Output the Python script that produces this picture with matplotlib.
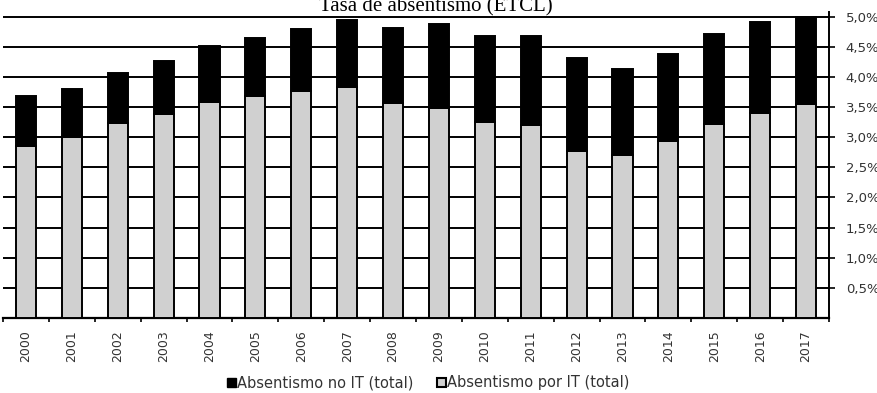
import numpy as np
import matplotlib
matplotlib.use("Agg")
import matplotlib.pyplot as plt
from matplotlib.patches import Patch

years = [str(y) for y in range(2000, 2018)]
# total absenteeism rate (%) and the part due to IT
total = [3.68, 3.80, 4.07, 4.27, 4.51, 4.65, 4.80, 4.94, 4.82, 4.88,
         4.68, 4.68, 4.31, 4.14, 4.38, 4.71, 4.92, 5.00]
por_it = [2.85, 3.00, 3.24, 3.38, 3.59, 3.68, 3.77, 3.83, 3.57, 3.49,
          3.26, 3.21, 2.78, 2.70, 2.93, 3.22, 3.41, 3.56]
no_it = [t - p for t, p in zip(total, por_it)]
yticks = [0.5, 1.0, 1.5, 2.0, 2.5, 3.0, 3.5, 4.0, 4.5, 5.0]
ytick_labels = ["0,5%", "1,0%", "1,5%", "2,0%", "2,5%", "3,0%", "3,5%", "4,0%", "4,5%", "5,0%"]

grey = "#d0d0d0"

fig = plt.figure(figsize=(8.78, 3.93), dpi=100)
ax = fig.add_axes([0.0034, 0.191, 0.9408, 0.7785])

x = np.arange(len(years))
ax.bar(x, por_it, width=0.44, color=grey, edgecolor="black", linewidth=1.4, zorder=3)
ax.bar(x, no_it, width=0.44, bottom=por_it, color="black", edgecolor="black",
       linewidth=1.4, zorder=3)

for yv in yticks:
    ax.axhline(yv, color="black", linewidth=1.4, zorder=1)

ax.set_xlim(-0.5, len(years) - 0.5)
ax.set_ylim(0, 5.08)

ax.yaxis.tick_right()
ax.set_yticks(yticks)
ax.set_yticklabels(ytick_labels, fontsize=9.5, color="#333333")
ax.tick_params(axis="y", direction="out", length=4, width=1.2, pad=8)

ax.set_xticks(x)
ax.set_xticklabels(years, rotation=90, fontsize=9, color="#333333")
ax.set_xticks(np.arange(len(years) + 1) - 0.5, minor=True)
ax.tick_params(axis="x", which="major", length=0, pad=9)
ax.tick_params(axis="x", which="minor", direction="out", length=3, width=1.2)

for side in ["left", "top"]:
    ax.spines[side].set_visible(False)
ax.spines["right"].set_linewidth(1.4)
ax.spines["bottom"].set_linewidth(1.6)

fig.text(0.496, 0.97, "Tasa de absentismo (ETCL)", ha="center", va="baseline",
         fontsize=15, family="Liberation Serif")

handles = [Patch(facecolor="black", edgecolor="black"),
           Patch(facecolor=grey, edgecolor="black", linewidth=1.5)]
fig.legend(handles, ["Absentismo no IT (total)", "Absentismo por IT (total)"],
           loc="center", bbox_to_anchor=(0.488, 0.026), ncol=2, frameon=False,
           fontsize=10.5, handlelength=0.6, handleheight=0.6, handletextpad=0.1,
           columnspacing=1.6, labelcolor="#333333")

fig.savefig("out.png", dpi=100)
